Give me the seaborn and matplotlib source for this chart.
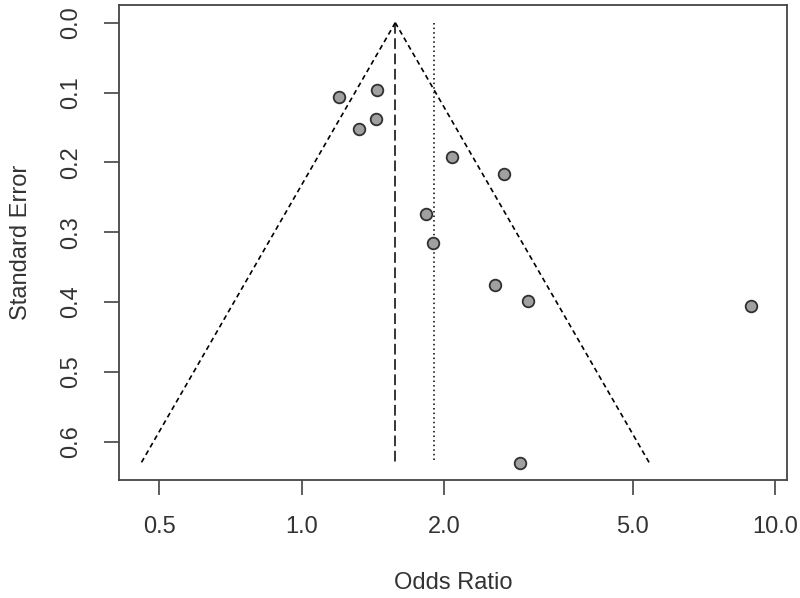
import numpy as np
import matplotlib
matplotlib.use("Agg")
import matplotlib.pyplot as plt
from matplotlib.ticker import NullLocator
import seaborn as sns

# Study-level estimates
odds_ratio = [1.20, 1.445, 1.435, 1.318, 2.076, 2.677, 1.832, 1.889, 2.554, 2.998, 8.88, 2.893]
std_error = [0.106, 0.097, 0.138, 0.152, 0.193, 0.217, 0.274, 0.315, 0.375, 0.398, 0.406, 0.630]

# Pooled estimate (funnel centre) and second reference line
pooled_or = 1.576
reference_or = 1.905

x_ticks = [0.5, 1.0, 2.0, 5.0, 10.0]
x_tick_labels = ["0.5", "1.0", "2.0", "5.0", "10.0"]
y_ticks = [0.0, 0.1, 0.2, 0.3, 0.4, 0.5, 0.6]
y_tick_labels = ["0.0", "0.1", "0.2", "0.3", "0.4", "0.5", "0.6"]

sns.set_style("ticks")
plt.rcParams["font.family"] = ["Liberation Sans", "DejaVu Sans"]

FONT_SIZE = 17

fig = plt.figure(figsize=(8, 5.98), dpi=100)
ax = fig.add_axes([0.149, 0.197, 0.835, 0.7945])

se_max = max(std_error)
se_line = np.array([0.0, se_max])
ln_est = np.log(pooled_or)
lower = np.exp(ln_est - 1.96 * se_line)
upper = np.exp(ln_est + 1.96 * se_line)

# funnel sides
ax.plot(lower, se_line, color="black", lw=1.2, linestyle=(0, (3, 2.2)))
ax.plot(upper, se_line, color="black", lw=1.2, linestyle=(0, (3, 2.2)))
# pooled estimate and reference line
ax.plot([pooled_or, pooled_or], se_line, color="black", lw=1.1, linestyle=(0, (7, 3)))
ax.plot([reference_or, reference_or], se_line, color="black", lw=1.1, linestyle=(0, (1, 2)))

sns.scatterplot(x=odds_ratio, y=std_error, ax=ax, color="#a0a0a0",
                edgecolor="#303030", s=70, linewidth=1.3, zorder=3)

ax.set_xscale("log")
ax.set_xlim(0.4116, 10.6)
pad = 0.04 * se_max
ax.set_ylim(se_max + pad, -pad)

ax.set_xticks(x_ticks)
ax.set_xticklabels(x_tick_labels)
ax.xaxis.set_minor_locator(NullLocator())
ax.set_yticks(y_ticks)
ax.set_yticklabels(y_tick_labels, rotation=90, va="center")

ax.tick_params(axis="both", direction="out", length=11, width=1.1,
               color="#333333", labelsize=FONT_SIZE, labelcolor="#333333")
ax.tick_params(axis="x", pad=15)
ax.tick_params(axis="y", pad=16)

for spine in ax.spines.values():
    spine.set_visible(True)
    spine.set_color("#444444")
    spine.set_linewidth(1.3)

ax.set_xlabel("Odds Ratio", fontsize=FONT_SIZE, color="#333333", labelpad=24)
ax.set_ylabel("Standard Error", fontsize=FONT_SIZE, color="#333333", labelpad=20)

fig.savefig("out.png", dpi=100)
